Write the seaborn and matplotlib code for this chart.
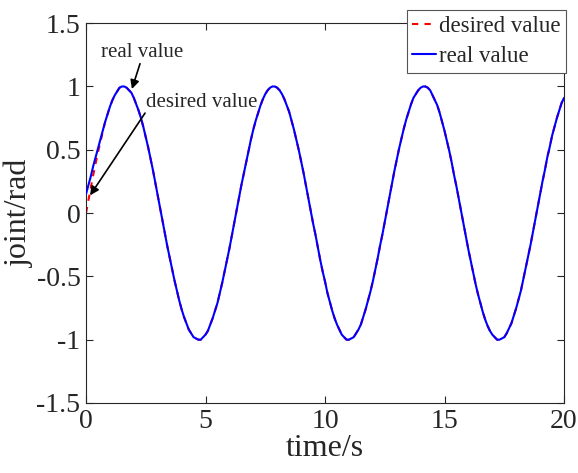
import numpy as np
import pandas as pd
import matplotlib
matplotlib.use("Agg")
import matplotlib.pyplot as plt
import seaborn as sns
from matplotlib.lines import Line2D

# time grid, 0.1 s step
time_s = np.linspace(0, 20, 201)

desired_value = [
    0.00, 0.10, 0.20, 0.30, 0.39, 0.48, 0.56, 0.64, 0.72, 0.78,
    0.84, 0.89, 0.93, 0.96, 0.99, 1.00, 1.00, 0.99, 0.97, 0.95,
    0.91, 0.86, 0.81, 0.75, 0.68, 0.60, 0.52, 0.43, 0.34, 0.24,
    0.14, 0.04, -0.06, -0.16, -0.26, -0.35, -0.44, -0.53, -0.61, -0.69,
    -0.76, -0.82, -0.87, -0.92, -0.95, -0.98, -0.99, -1.00, -1.00, -0.98,
    -0.96, -0.93, -0.88, -0.83, -0.77, -0.71, -0.63, -0.55, -0.46, -0.37,
    -0.28, -0.18, -0.08, 0.02, 0.12, 0.22, 0.31, 0.40, 0.49, 0.58,
    0.66, 0.73, 0.79, 0.85, 0.90, 0.94, 0.97, 0.99, 1.00, 1.00,
    0.99, 0.97, 0.94, 0.90, 0.85, 0.80, 0.73, 0.66, 0.58, 0.50,
    0.41, 0.32, 0.22, 0.12, 0.02, -0.08, -0.17, -0.27, -0.37, -0.46,
    -0.54, -0.63, -0.70, -0.77, -0.83, -0.88, -0.92, -0.96, -0.98, -1.00,
    -1.00, -0.99, -0.98, -0.95, -0.92, -0.88, -0.82, -0.76, -0.69, -0.62,
    -0.54, -0.45, -0.36, -0.26, -0.17, -0.07, 0.03, 0.13, 0.23, 0.33,
    0.42, 0.51, 0.59, 0.67, 0.74, 0.80, 0.86, 0.91, 0.94, 0.97,
    0.99, 1.00, 1.00, 0.99, 0.97, 0.93, 0.89, 0.85, 0.79, 0.72,
    0.65, 0.57, 0.49, 0.40, 0.30, 0.21, 0.11, 0.01, -0.09, -0.19,
    -0.29, -0.38, -0.47, -0.56, -0.64, -0.71, -0.78, -0.84, -0.89, -0.93,
    -0.96, -0.98, -1.00, -1.00, -0.99, -0.98, -0.95, -0.91, -0.87, -0.81,
    -0.75, -0.68, -0.61, -0.52, -0.43, -0.34, -0.25, -0.15, -0.05, 0.05,
    0.15, 0.25, 0.34, 0.44, 0.52, 0.61, 0.68, 0.75, 0.81, 0.87,
    0.91,
]
# real value starts off at 0.15 and catches up within ~0.8 s
real_value = [0.15, 0.22, 0.29, 0.37, 0.44, 0.51, 0.58, 0.65] + desired_value[8:]

df = pd.DataFrame({
    'time': np.concatenate([time_s, time_s]),
    'joint': desired_value + real_value,
    'series': ['desired value'] * len(time_s) + ['real value'] * len(time_s),
})

sns.set_style("ticks")
plt.rcParams['font.family'] = ['Liberation Serif', 'DejaVu Serif']

fig = plt.figure(figsize=(5.78, 4.73), dpi=100)
ax = fig.add_axes([0.1488, 0.148, 0.827, 0.803])

sns.lineplot(data=df, x='time', y='joint', hue='series', style='series',
             palette={'desired value': 'red', 'real value': 'blue'},
             dashes={'desired value': (3, 3), 'real value': ''},
             linewidth=1.5, ax=ax, legend=False)
ax.lines[0].set_zorder(2)
ax.lines[1].set_zorder(3)

ax.set_xlim(0, 20)
ax.set_ylim(-1.5, 1.5)
ax.set_xticks([0, 5, 10, 15, 20])
ax.set_yticks([-1.5, -1, -0.5, 0, 0.5, 1, 1.5])
ax.set_yticklabels(['-1.5', '-1', '-0.5', '0', '0.5', '1', '1.5'])
ax.tick_params(direction='in', top=True, right=True, labelsize=20,
               length=5, width=0.8, pad=4)
for sp in ax.spines.values():
    sp.set_linewidth(0.8)
    sp.set_visible(True)

ax.set_xlabel('time/s', fontsize=23, labelpad=0)
ax.set_ylabel('joint/rad', fontsize=23, labelpad=2)

# annotations: text and arrows
ax.text(2.36, 1.27, 'real value', fontsize=15, ha='center', va='center')
ax.annotate('', xy=(1.92, 0.98), xytext=(2.26, 1.18),
            arrowprops=dict(arrowstyle='-|>', color='black', lw=1.2,
                            mutation_scale=13, shrinkA=0, shrinkB=0))
ax.text(4.85, 0.876, 'desired value', fontsize=15, ha='center', va='center')
ax.annotate('', xy=(0.17, 0.14), xytext=(2.47, 0.79),
            arrowprops=dict(arrowstyle='-|>', color='black', lw=1.2,
                            mutation_scale=13, shrinkA=0, shrinkB=0))

handles = [Line2D([], [], color='red', lw=1.5, dashes=(3, 3)),
           Line2D([], [], color='blue', lw=1.5)]
leg = ax.legend(handles, ['desired value', 'real value'], loc='upper right',
                bbox_to_anchor=(0.979, 0.979), bbox_transform=fig.transFigure,
                borderaxespad=0, fontsize=16.5, frameon=True, fancybox=False,
                handlelength=1.05, handletextpad=0.1, borderpad=0.25,
                labelspacing=0.4)
leg.get_frame().set_edgecolor('#555555')
leg.get_frame().set_linewidth(0.8)
leg.get_frame().set_alpha(1)

fig.savefig('out.png', dpi=100)
